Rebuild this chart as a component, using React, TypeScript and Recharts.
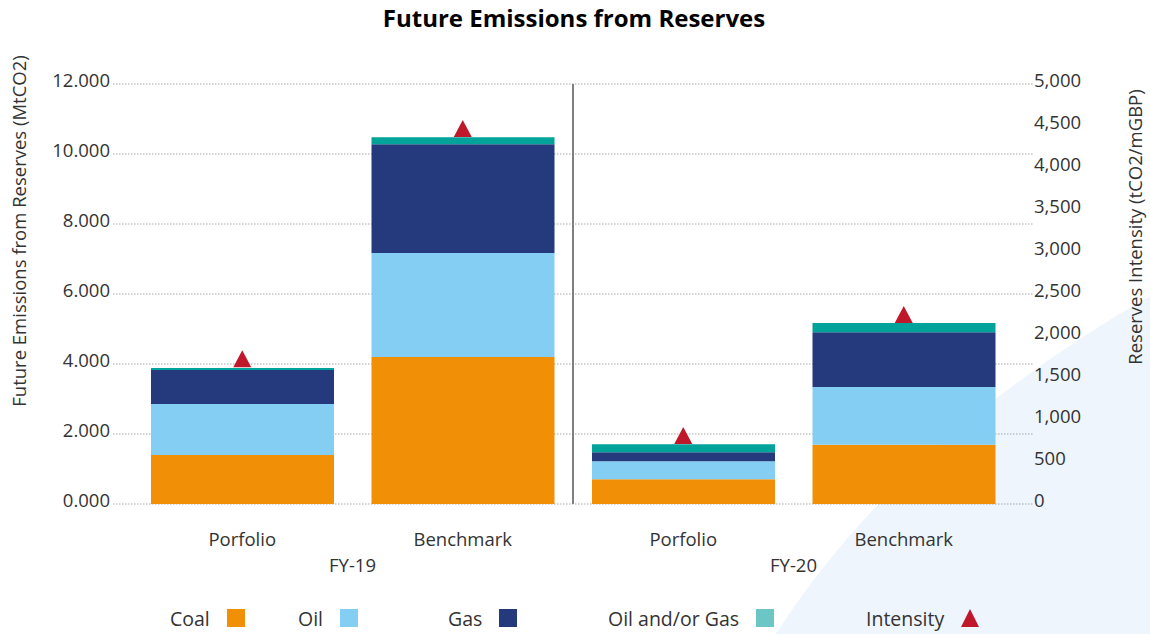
import {
  Bar,
  CartesianGrid,
  ComposedChart,
  ReferenceLine,
  Scatter,
  XAxis,
  YAxis,
} from "recharts";

const categories = ["Porfolio", "Benchmark", "Porfolio", "Benchmark"];
const years = ["FY-19", "FY-19", "FY-20", "FY-20"];

// MtCO2 per fuel type, stacked bottom to top
const coal = [1400, 4200, 710, 1690];
const oil = [1460, 2970, 515, 1650];
const gas = [970, 3110, 257, 1570];
const oilOrGas = [55, 200, 228, 260];

// tCO2/mGBP, right axis
const intensity = [1730, 4470, 815, 2256];

const leftTicks = [0, 2000, 4000, 6000, 8000, 10000, 12000];
const rightTicks = [0, 500, 1000, 1500, 2000, 2500, 3000, 3500, 4000, 4500, 5000];

const FONT = "'Open Sans', Lato, sans-serif";
const TEXT = "#333333";
const FONT_SIZE = 18.5;

const series = [
  { key: "coal", name: "Coal", color: "#F18F07", swatch: "#F18F07" },
  { key: "oil", name: "Oil", color: "#84CEF4", swatch: "#84CEF4" },
  { key: "gas", name: "Gas", color: "#243A7C", swatch: "#243A7C" },
  { key: "oilOrGas", name: "Oil and/or Gas", color: "#00A39A", swatch: "#6CC6C5" },
];
const INTENSITY_COLOR = "#C0182B";

const data = categories.map((c, i) => ({
  id: `${years[i]} ${c}`,
  name: c,
  year: years[i],
  coal: coal[i],
  oil: oil[i],
  gas: gas[i],
  oilOrGas: oilOrGas[i],
  intensity: intensity[i],
}));

const tickStyle = { fill: TEXT, fontSize: FONT_SIZE, fontFamily: FONT };

function Triangle(props: any) {
  const { cx, cy } = props;
  if (cx == null || cy == null) return null;
  return (
    <polygon
      points={`${cx},${cy - 8.5} ${cx - 9},${cy + 8.5} ${cx + 9},${cy + 8.5}`}
      fill={INTENSITY_COLOR}
    />
  );
}

function VerticalTitle({ x, y, value }: { x: number; y: number; value: string }) {
  return (
    <text
      x={x}
      y={y}
      transform={`rotate(-90 ${x} ${y})`}
      textAnchor="middle"
      dominantBaseline="central"
      fill={TEXT}
      fontSize={FONT_SIZE}
      fontFamily={FONT}
    >
      {value}
    </text>
  );
}

const legendLeft = [170, 298, 448, 608, 866];

export default function App() {
  return (
    <div
      style={{
        position: "absolute",
        left: 0,
        top: 0,
        width: 1150,
        height: 634,
        background: "#ffffff",
        overflow: "hidden",
        fontFamily: FONT,
      }}
    >
      <svg
        width={1150}
        height={634}
        style={{ position: "absolute", left: 0, top: 0 }}
      >
        <path d="M 776 634 Q 900 440 1150 296 L 1150 634 Z" fill="#EEF5FD" />
      </svg>

      <div
        style={{
          position: "absolute",
          top: 1,
          left: 0,
          width: 1148,
          textAlign: "center",
          fontWeight: 700,
          fontSize: 24,
          color: "#000",
        }}
      >
        Future Emissions from Reserves
      </div>

      <div style={{ position: "absolute", left: 0, top: 0 }}>
        <ComposedChart
          width={1150}
          height={634}
          data={data}
          margin={{ top: 84, right: 0, bottom: 60, left: 0 }}
        >
          <CartesianGrid
            yAxisId="left"
            vertical={false}
            stroke="#A6A6A6"
            strokeDasharray="1.5 1.5"
          />
          <XAxis
            dataKey="id"
            tickFormatter={(_v, i) => categories[i]}
            axisLine={false}
            tickLine={false}
            tickSize={0}
            tickMargin={29}
            height={40}
            padding={{ left: 19, right: 19 }}
            tick={tickStyle}
            interval={0}
          />
          <XAxis
            xAxisId="year"
            dataKey="year"
            allowDuplicatedCategory={false}
            axisLine={false}
            tickLine={false}
            tickSize={0}
            tickMargin={15}
            height={30}
            padding={{ left: 19, right: 19 }}
            tick={tickStyle}
            interval={0}
          />
          <YAxis
            yAxisId="left"
            width={113}
            domain={[0, 12000]}
            ticks={leftTicks}
            tickFormatter={(v) => (v / 1000).toFixed(3)}
            axisLine={false}
            tickLine={false}
            tickSize={0}
            tickMargin={3}
            tick={{ ...tickStyle, dy: -4 }}
            label={() => (
              <VerticalTitle
                x={18}
                y={231}
                value="Future Emissions from Reserves (MtCO2)"
              />
            )}
          />
          <YAxis
            yAxisId="right"
            orientation="right"
            width={117}
            domain={[0, 5000]}
            ticks={rightTicks}
            tickFormatter={(v) => Number(v).toLocaleString("en-US")}
            axisLine={false}
            tickLine={false}
            tickSize={0}
            tickMargin={1}
            tick={{ ...tickStyle, textAnchor: "start", dy: -4 }}
            label={() => (
              <VerticalTitle
                x={1134}
                y={227}
                value="Reserves Intensity (tCO2/mGBP)"
              />
            )}
          />
          {series.map((s) => (
            <Bar
              key={s.key}
              yAxisId="left"
              dataKey={s.key}
              name={s.name}
              stackId="fuel"
              fill={s.color}
              barSize={183}
              isAnimationActive={false}
            />
          ))}
          <Scatter
            yAxisId="right"
            dataKey="intensity"
            name="Intensity"
            shape={Triangle}
            isAnimationActive={false}
          />
          <ReferenceLine
            yAxisId="left"
            x="FY-20 Porfolio"
            position="start"
            ifOverflow="visible"
            segment={[
              { x: "FY-20 Porfolio", y: -2030 },
              { x: "FY-20 Porfolio", y: 12490 },
            ]}
            stroke="#7F7F7F"
            strokeWidth={2}
          />
        </ComposedChart>
      </div>

      <div
        style={{
          position: "absolute",
          top: 606,
          left: 0,
          width: 1150,
          height: 24,
          fontSize: 19.5,
          color: TEXT,
        }}
      >
        {series.map((s, i) => (
          <div
            key={s.key}
            style={{
              position: "absolute",
              left: legendLeft[i],
              top: 0,
              display: "flex",
              alignItems: "center",
              height: 24,
              whiteSpace: "nowrap",
            }}
          >
            <span>{s.name}</span>
            <span
              style={{
                display: "inline-block",
                width: 18,
                height: 18,
                marginLeft: 17,
                background: s.swatch,
              }}
            />
          </div>
        ))}
        <div
          style={{
            position: "absolute",
            left: legendLeft[4],
            top: 0,
            display: "flex",
            alignItems: "center",
            height: 24,
            whiteSpace: "nowrap",
          }}
        >
          <span>Intensity</span>
          <svg width={18} height={18} style={{ marginLeft: 17 }}>
            <polygon points="9,0 0,18 18,18" fill={INTENSITY_COLOR} />
          </svg>
        </div>
      </div>
    </div>
  );
}
